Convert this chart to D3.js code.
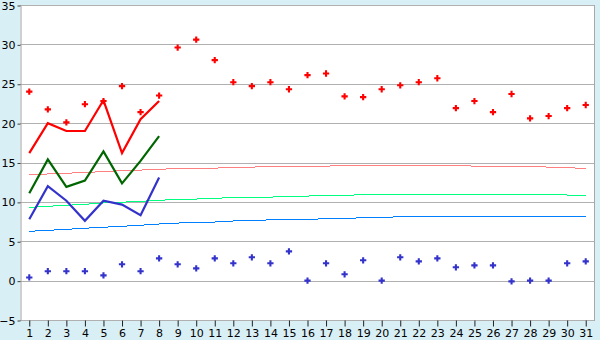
<!DOCTYPE html>
<html>
<head>
	<meta charset="utf-8">
	<title></title>
	<script src="https://cdn.jsdelivr.net/npm/d3@7"></script>
	<style>
		body{margin:0;}
		text{font-family:"DejaVu Sans",Verdana,sans-serif;font-size:11px;}
	</style>
</head>
<body>
	<script>
	var w=600;
	var h=340;
	var plotL=20, plotR=595, plotT=5, plotB=320;

	var days=d3.range(1,32);
	var yTicks=[-5,0,5,10,15,20,25,30,35];

	// daily points
	var highPts=[24.0,21.75,20.1,22.4,22.8,24.7,21.4,23.5,29.6,30.6,28.0,25.2,24.7,25.2,24.3,26.1,26.3,23.4,23.3,24.3,24.8,25.2,25.7,21.9,22.8,21.4,23.7,20.6,20.9,21.9,22.3];
	var lowPts=[0.4,1.2,1.2,1.2,0.67,2.07,1.2,2.83,2.07,1.56,2.83,2.2,2.96,2.2,3.72,0.0,2.2,0.8,2.58,0.0,2.96,2.45,2.83,1.69,1.94,1.94,-0.1,0.0,0.0,2.2,2.45];

	// lines for the first 8 days
	var redLine=[16.2,20.0,19.0,19.0,22.9,16.2,20.5,22.8];
	var greenLine=[11.1,15.4,11.9,12.7,16.4,12.35,15.2,18.35];
	var blueLine=[7.8,12.0,10.15,7.6,10.15,9.65,8.3,13.1];

	// thin reference lines
	var pinkRef=[13.5,13.54,13.64,13.72,13.85,13.96,14.04,14.13,14.25,14.28,14.29,14.34,14.42,14.47,14.52,14.55,14.55,14.57,14.6,14.65,14.65,14.64,14.6,14.57,14.55,14.52,14.5,14.47,14.42,14.34,14.25];
	var greenRef=[9.31,9.44,9.56,9.69,9.86,9.96,10.07,10.2,10.32,10.36,10.45,10.55,10.57,10.61,10.67,10.74,10.8,10.84,10.9,10.96,10.96,10.96,10.96,10.96,10.96,10.96,10.96,10.96,10.96,10.87,10.83];
	var blueRef=[6.26,6.39,6.51,6.65,6.78,6.9,7.03,7.19,7.31,7.38,7.44,7.57,7.63,7.72,7.79,7.79,7.85,7.91,7.98,8.04,8.1,8.17,8.17,8.17,8.17,8.17,8.17,8.17,8.17,8.17,8.17];

	var svg=d3.select("body").append("svg")
		.attr("width",w)
		.attr("height",h);

	svg.append("rect").attr("width",w).attr("height",h).attr("fill","#d9eff6");
	svg.append("rect")
		.attr("x",plotL).attr("y",plotT)
		.attr("width",plotR-plotL).attr("height",plotB-plotT)
		.attr("fill","#fff");

	var x=d3.scalePoint().domain(days).range([plotL,plotR]).padding(0.5);
	var y=d3.scaleLinear().domain([-5,35]).range([plotB,plotT]);

	// grid
	svg.selectAll(".grid")
		.data(yTicks)
		.enter()
		.append("line")
		.attr("x1",plotL).attr("x2",plotR)
		.attr("y1",function(d){return Math.round(y(d))+0.5;})
		.attr("y2",function(d){return Math.round(y(d))+0.5;})
		.attr("stroke","#b0b0b0");

	svg.append("line")
		.attr("x1",plotR-0.5).attr("x2",plotR-0.5)
		.attr("y1",plotT).attr("y2",plotB+1)
		.attr("stroke","#a8a8a8");

	var yAxis=svg.append("g")
		.attr("transform","translate("+(plotL+0.5)+",0.5)")
		.call(d3.axisLeft(y).tickValues(yTicks).tickSize(3).tickSizeOuter(0).tickPadding(2).tickFormat(function(d){return d<0?"\u2212"+(-d):d;}));
	yAxis.select(".domain").attr("stroke","#a0a0a0");
	yAxis.selectAll(".tick line").attr("stroke","#404040");
	yAxis.selectAll("text").attr("fill","#000").style("font-size","11px").style("font-family","'DejaVu Sans',Verdana,sans-serif");

	var xAxis=svg.append("g")
		.attr("transform","translate(0,"+(plotB+0.5)+")")
		.call(d3.axisBottom(x).tickSize(6).tickSizeOuter(0).tickPadding(3));
	xAxis.select(".domain").remove();
	xAxis.selectAll(".tick line").attr("stroke","#202020");
	xAxis.selectAll("text").attr("fill","#000").style("font-size","11px").style("font-family","'DejaVu Sans',Verdana,sans-serif");

	var line=d3.line()
		.x(function(d,i){return x(days[i]);})
		.y(function(d){return y(d);});

	function drawLine(data,color,width,crisp){
		svg.append("path")
			.datum(data)
			.attr("d",line)
			.attr("fill","none")
			.attr("stroke",color)
			.attr("stroke-width",width)
			.attr("shape-rendering",crisp?"crispEdges":"auto");
	}

	drawLine(pinkRef,"#ff8080",1,true);
	drawLine(greenRef,"#00ff80",1,true);
	drawLine(blueRef,"#0080ff",1,true);

	drawLine(redLine,"#ff0000",2.2,false);
	drawLine(greenLine,"#006600",2.2,false);
	drawLine(blueLine,"#3333cc",2.2,false);

	var sym=d3.symbol().type(d3.symbolCross).size(22);

	function drawPts(data,color){
		svg.append("g").selectAll("path")
			.data(data)
			.enter()
			.append("path")
			.attr("d",sym)
			.attr("transform",function(d,i){return "translate("+x(days[i])+","+y(d)+")";})
			.attr("fill",color);
	}
	drawPts(highPts,"#ff0000");
	drawPts(lowPts,"#3333cc");
	</script>
</body>
</html>
